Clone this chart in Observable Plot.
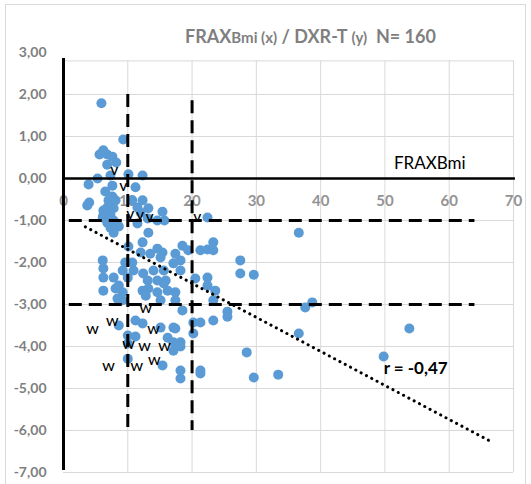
<!DOCTYPE html>
<html><head><meta charset="utf-8">
<script src="https://cdn.jsdelivr.net/npm/d3@7"></script>
<script src="https://cdn.jsdelivr.net/npm/@observablehq/plot@0.6"></script>
<style>
body{margin:0;background:#fff;}
#wrap{position:relative;width:531px;height:484px;overflow:hidden;font-family:Lato,"Open Sans",sans-serif;}
#border{position:absolute;left:5px;top:4px;width:521px;height:500px;border:1px solid #d9d9d9;box-sizing:border-box;}
#wrap svg{position:absolute;left:0;top:0;}
#title{position:absolute;top:26px;left:185px;font-weight:700;font-size:18px;line-height:20px;color:#7f7f7f;white-space:nowrap;}
#title .s{font-size:15px;}
</style></head><body>
<div id="wrap"><div id="border"></div></div>
<script>
const fraxBmi = [5.9,9.3,6.2,5.6,6.8,7.6,8.2,6.8,5.3,7.3,10.1,12.3,3.9,7.6,11.2,6.5,7.6,4.0,3.7,7.0,8.1,10.7,12.3,13.2,15.4,6.8,7.8,6.2,7.3,13.1,14.6,15.7,22.4,6.2,11.5,12.0,11.5,6.1,6.8,7.8,7.3,7.8,8.6,13.2,
10.1,12.3,12.0,13.5,14.6,15.4,15.1,6.1,9.6,10.7,9.2,10.9,6.2,7.8,10.0,12.4,14.0,13.1,14.6,8.6,8.1,6.2,9.2,12.3,13.2,12.8,14.6,16.2,6.2,18.5,19.4,21.3,22.4,23.3,23.3,17.4,18.2,17.1,15.6,18.2,27.5,27.5,29.6,22.4,22.4,20.5,15.9,17.4,23.6,23.3,36.6,8.4,9.2,15.6,17.4,15.1,
18.5,20.2,21.3,23.3,25.5,25.5,17.1,20.2,16.2,17.1,18.2,18.2,17.1,15.4,18.2,18.2,21.3,21.3,28.5,29.6,33.4,37.6,38.7,36.6,53.8,49.8,8.6,11.2,12.3,11.2,10.0,10.0,10.0,15.1,17.4];
const dxrT = [1.79,0.93,0.67,0.57,0.57,0.52,0.38,0.33,0.00,0.07,0.10,0.07,-0.14,-0.17,-0.21,-0.31,-0.43,-0.57,-0.64,-0.52,-0.52,-0.52,-0.52,-0.71,-0.79,-0.69,-0.71,-0.88,-0.86,-0.95,-1.00,-1.00,-0.93,-0.76,-0.69,-0.81,-1.07,-0.93,-1.05,-1.00,-1.17,-1.29,-1.14,-1.29,
-1.62,-1.52,-1.76,-1.79,-1.67,-1.76,-1.88,-1.95,-2.00,-2.00,-2.19,-2.19,-2.36,-2.36,-2.36,-2.26,-2.19,-2.43,-2.43,-2.55,-2.62,-2.67,-2.71,-2.67,-2.62,-2.79,-2.71,-2.67,-2.14,-1.60,-1.71,-1.71,-1.69,-1.52,-1.71,-1.79,-1.95,-2.02,-2.19,-2.19,-1.95,-2.26,-2.29,-2.36,-2.55,-2.38,-2.43,-2.71,-2.67,-2.90,-1.29,-2.86,-2.90,-2.50,-2.90,-2.90,
-3.14,-3.43,-3.43,-3.38,-3.17,-3.29,-3.55,-3.69,-3.79,-3.90,-3.90,-4.00,-4.10,-4.45,-4.57,-4.76,-4.57,-4.64,-4.14,-4.74,-4.67,-3.07,-2.95,-3.69,-3.57,-4.24,-3.50,-3.38,-3.45,-3.76,-3.74,-3.93,-4.29,-3.55,-3.57];

const vMarkX = [7.9, 9.3, 10.4, 11.9, 13.4, 20.8];
const vMarkY = [0.17, -0.21, -0.88, -0.90, -0.95, -0.95];
const wMarkX = [12.8, 4.5, 7.6, 14.0, 10.1, 12.6, 15.7, 7.0, 11.4, 14.1];
const wMarkY = [-3.10, -3.62, -3.43, -3.62, -3.96, -4.02, -4.02, -4.48, -4.50, -4.36];

const xTicks = [0, 10, 20, 30, 40, 50, 60, 70];
const yTicks = [3, 2, 1, 0, -1, -2, -3, -4, -5, -6, -7];

const cutX = [10, 20];
const cutXTop = [2.0, 1.85];
const cutY = [-1, -3];
const trendX = [3.4, 66.7];
const trendY = [-1.15, -6.28];

const titleText = ["FRAX", "Bmi (x)", " / DXR-T ", "(y)", "\u00a0 N= 160"];
const axisName = "FRAXBmi";
const rText = "r = -0,47";

const fmt = d3.formatLocale({decimal: ",", thousands: ".", grouping: [3], currency: ["", "€"], minus: "-"}).format(".2f");

const pts = fraxBmi.map((x, i) => ({x, y: dxrT[i]}));
const vLines = cutX.map((x, i) => ({x, y1: cutXTop[i], y2: -6}));
const hLines = cutY.map(y => ({y, x1: 0.9, x2: 64}));
const trend = trendX.map((x, i) => ({x, y: trendY[i]}));
const vMarks = vMarkX.map((x, i) => ({x, y: vMarkY[i]}));
const wMarks = wMarkX.map((x, i) => ({x, y: wMarkY[i]}));

const chart = Plot.plot({
  width: 531, height: 484,
  marginLeft: 63, marginRight: 18, marginTop: 52, marginBottom: 12,
  x: {domain: [0, 70], axis: null},
  y: {domain: [-7, 3], axis: null},
  style: {background: "transparent", fontFamily: "Lato, 'Open Sans', sans-serif"},
  marks: [
    Plot.ruleY(yTicks.filter(d => d < 3), {stroke: "#d9d9d9", strokeWidth: 1, strokeOpacity: 1}),
    Plot.ruleY([2.8], {stroke: "#d9d9d9", strokeWidth: 1}),
    Plot.ruleX(xTicks.filter(d => d > 0), {y1: 2.8, y2: -7, stroke: "#d9d9d9", strokeWidth: 1}),
    Plot.text(xTicks, {x: d => d, y: 0, dy: 23, text: d => String(d), fill: "#939393", fontSize: 15, fontWeight: 700}),
    Plot.dot(pts, {x: "x", y: "y", r: 5, fill: "#5b9bd5"}),
    Plot.ruleX(vLines, {x: "x", y1: "y1", y2: "y2", stroke: "#000", strokeWidth: 3, strokeDasharray: "13,7"}),
    Plot.ruleY(hLines, {y: "y", x1: "x1", x2: "x2", stroke: "#000", strokeWidth: 3, strokeDasharray: "13,7"}),
    Plot.line(trend, {x: "x", y: "y", stroke: "#000", strokeWidth: 3, strokeDasharray: "0.1,5.9", strokeLinecap: "round"}),
    Plot.text(yTicks, {x: 0, y: d => d, dx: -17, textAnchor: "end", text: d => fmt(d), fill: "#7f7f7f", fontSize: 14, fontWeight: 700}),
    Plot.ruleX([0], {y1: 2.86, y2: -6.95, stroke: "#000", strokeWidth: 3}),
    Plot.ruleY([0], {x1: 0, x2: 70.3, stroke: "#000", strokeWidth: 2.5}),
    Plot.text(vMarks, {x: "x", y: "y", text: () => "V", fill: "#000", fontSize: 11, fontWeight: 700}),
    Plot.text(wMarks, {x: "x", y: "y", text: () => "W", fill: "#000", fontSize: 12, fontWeight: 600}),
    Plot.text([axisName], {x: 51.4, y: 0.36, text: d => d, textAnchor: "start", fill: "#000", fontSize: 17}),
    Plot.text([rText], {x: 49.8, y: -4.52, text: d => d, textAnchor: "start", fill: "#000", fontSize: 17, fontWeight: 700})
  ]
});
const wrap = document.getElementById("wrap");
wrap.appendChild(chart);
const t = document.createElement("div");
t.id = "title";
titleText.forEach((s, i) => {
  const sp = document.createElement("span");
  if (i === 1 || i === 3) sp.className = "s";
  sp.textContent = s;
  t.appendChild(sp);
});
wrap.appendChild(t);
</script>
</body></html>
